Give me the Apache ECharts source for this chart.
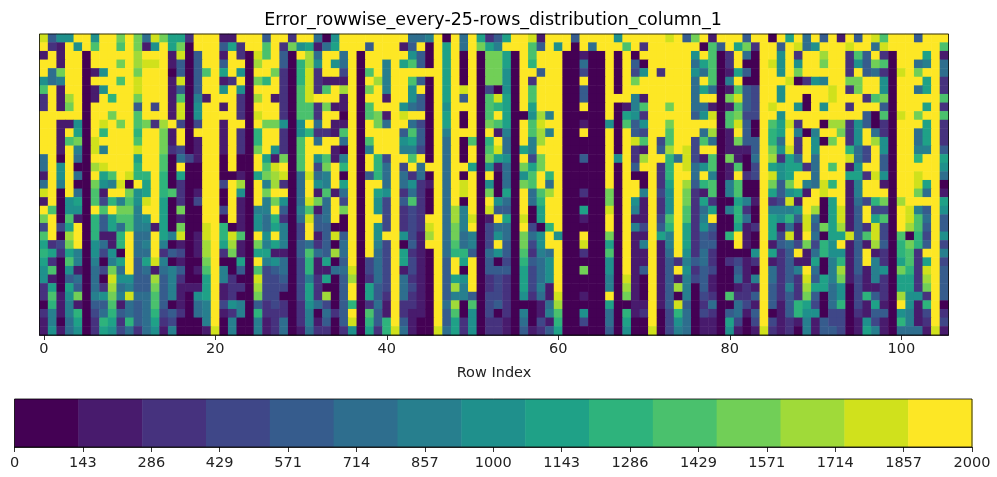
<!DOCTYPE html>
<html><head><meta charset="utf-8">
<style>html,body{margin:0;padding:0;background:#fff}#c{width:997px;height:477px}</style>
<script src="https://cdn.jsdelivr.net/npm/echarts@6/dist/echarts.min.js"></script>
</head><body><div id="c"></div>
<script>
// Colour level per cell (base-15 digit, 0..e), rows top to bottom, split in four column blocks.
const colsA = ["d477ee7eebeb5db882eee11eee4","e21e7eaeeaeb17e8b0eee482eea","1e1ee0eeeeeceee1d04ee1e20da","ee1ee0eeebecdde1404ee4ee0ce","e5bee017eeebeee0404ae8e70ee","756ee0eeeaedeee1d04ee12e0b9","ae1ee017eeedeee1404ee7e70ee","2e1ce01e9eebeee1a061eee20ce","2e1be0eeeee4e3e1d07ee1e20ee","eeeee0eebeeaeee1d07eeee20de","ee1170edebeab2ce303ee1ee0eb","ee1e80e9eee9eeb1e0eee1e209e","ee1ab0deeeeaeeb1e01ee1e209e","ee1e60d6eeedeeb2301ee1e20be","5e0e50eeeee8eea0531ee0e00e8","5e7e00cdeee9eea0e00ee0e00ea","1e7e50e8aed99e90800ee00108b","5e6e00b76d0e8e90200ee3ec0e6","de0e50a1eeb78e9a201ee0e70eb","1e0780a396a7de80203ee0e10e6","ea0770eaebb6ee80b00ee3e1066","be0a10948aa67e80100ee0e1075","3e38e09485a66180b00de901075","ae0ce09119e55e86d01de9da0e7","823be07519e56e60101ce8c10b6","9828607370e55e24301ce2b1088","820a606068e48d60100be0080e6","7a071053b5e45156401ae6040a3","71045050d7744c462008e6200d3","28084052c5644b461118e1220c3","2a17b067b6d55a461078e1200b3","09161044a1545a401056e376042","26169035945459342056e126092","16058029829458230006e060061","17157028735257160001d060061"];
const colsB = ["ee2ee507eeeeeeee556e0e5e824","e2b78158eee4eee14e0e8e5eb86","e40ec5ee5e0eeeee740e8e0e0bb","e409c7e75e0ee6e8a40e8e0e0bb","b209d2ee3e0ae6eeeeee8e0e0bb","e209d2111e0ec6eea40e8e0e0bb","e20ad2aece0be6ee7e0e8ede030","120adeee1e0ee1ee740e8e4e0ad","e20aa2b11e0aeee7540e7eee0a9","e20aa2ee0e0ab1edee0e8e0e0ae","b707e5e11e0eb5ee530e8e0e0ba","e2079221ae0eeee4a40e6eee0e1","e20ae5ee5e0aeee7840e5e0a09e","720aeee10e06eee6630e5e0e0ad","1b0ae7a16e0e93eeae0e5e0e0b8","de0ae3be9e0e95e3e5ee5ee8071","cd05d56e0e0495e5250e5e0e0e0","c205e76e8e0ee5e5721e5ede070","ee05e1a15e0e87e2520e5ede0b0","b705db5e3e0e73e4a20e5e0e0e7","e406a15ebe0e73e2320e5c6e0d4","9205d45e0e0ee3e232ee5c6d01e","8603e4400e0e73e232de5b6e035","e603e14d4e0e7ee731ce5b56037","860452405e0e63e041ee5a5603e","1104a54c5e0e53e8210e5994057","750391804e0353e8310e4e8e040","450391155d0353e1310e4e0e044","340362804c0253e5210e487e023","330382004e0843e5310e4c6e023","300382c04e0842e5210e4664033","32027530490251e2210e5c0a034","220260524e0a41e2110e4a07030","250261404d0949e4100e4827022","25015220270829d5100d5827022"];
const colsC = ["8eed1eee4eeee7eeeeede4be1ee","eeea4e7e0e5eeeae2eeeeee0a4e","80eaeee00100e0e0eeeeee7ea02","80e9eee00500e0e40eeeee58a02","70ee4ee00300e0e37e2eee75a01","70e2eee00e00e0ebeeeeee5ea06","70eaeee00400e0eeeeeeee58501","80eaeee00400eee61eeeee5ee0b","80e8eee00e00e016aeebee55101","8007c6e00000e0872eeeee47d0a","80eadee0010070a47eebeeeee0a","60eac6e00e00e0e43eeaeee5c01","50e6cee00000e0edae3aee3a501","5086eee00000e0e21e4ced3ee01","70e3bee00400e7e2cee95d31a0b","50b8bee00000e0e4ee29ed57a01","507ae9e00000e0e00e29ee5e601","50bae5e00000e0ee0e28ec49a06","80e5ace00200b0ee6e37eb21a06","50e59ee00000b0e71e27eb28200","40e08ee00800d0e61e27ea25806","80d08ee00100e0e11e3aea26e00","50e309e00000e0e63e49e827400","50b57e700e00b0e11e86e824309","40b37ee00d0080e16e16e824400","40a265e00200a0e11e15e725200","309457e0000070e11e142645202","408357e00b0070e14e14e724300","208357e0000060d10e141634100","208361e0000060c10e14c604100","207251d00100e0b10e14060320a","200015c0000080011e14d402500","206016a0070050912e039503204","10503190030050800e037501108","10412480000040700d036501107"];
const colsD = ["e4ee0e8e5e4e1e4edaeee4eee","8b2ee4ed57eeedee5deeeeeea","e50ee7e2eecee2a4e20eee8e1","e00ed7e7eebee274ba0ee56e5","840ee7ebeeeee2e4520debee5","e00eeed0276eebbee70eee8e2","a43ee7eeeeede2bee70ee58e2","d43ee7ee0eedeee2ab0eeeeea","a43edee70e7ee2eee40eee8e2","b33ee7eeeeeeeee40a0debeea","d40ea8d2ee0cc274020eee8e2","e40e98e606eeb27e520ee58e2","b44e95e2e70be27ec70ee58e2","114eb7d2e7eee953e70ee66e4","105ec285e5eeed53e40ee9ee8","a03e878825eae17ee40eeeee7","e23ed78ee5eee882d70eedee5","a00eb4be65d9e16ee10eed8e0","a00e84781edee16eee0eeb5e1","861e23d1ee08e1539b0ceeee8","920e6667ec08d14e330ed64e7","950e8794d508d14e8a0eda5e4","812e8151d4b8c142d30eca4e4","e10e83d1e5088d4ad30a093e7","e10e1453b397e141c409b94e3","007e824e1597714e1209a2ee6","312e12411806914e6208a28e3","410e5246e506c141670b92de4","516e5242d486b131620882ce4","121e4262c8857031120882be4","224e4242b4057039420c772e4","531e414983059031810e719e0","514e0149770330214407613e2","303e3121614330173109612e3","101d2120614430186105551d1"];
const palette = ["#440154","#481b6d","#46327e","#3f4788","#365c8d","#2e6e8e","#277f8e","#1f908c","#1fa187","#2eb37c","#4ac16d","#71cf57","#a0da39","#d0e11c","#fde725"];
const colorbarTicks = [0,143,286,429,571,714,857,1000,1143,1286,1429,1571,1714,1857,2000];
const vmax = 2000;
const titleText = "Error_rowwise_every-25-rows_distribution_column_1";

const nCols = 106, nRows = 35, bin = vmax / palette.length;
const xCats = Array.from({length:nCols},(_,i)=>String(i));
const yCats = Array.from({length:nRows},(_,i)=>String(i));
const cells = [];
for (let r=0;r<nRows;r++){
  const row = colsA[r]+colsB[r]+colsC[r]+colsD[r];
  for (let c=0;c<nCols;c++){
    const level = parseInt(row[c],15);
    cells.push([c,r,(level+0.5)*bin]);
  }
}
const barBins = palette.map((col,i)=>[i*bin,(i+1)*bin,i]);
const tickExact = colorbarTicks.map((_,i)=>i*vmax/14);
const font = '"DejaVu Sans"';
const G = {l:39.5,t:34,w:909,h:301};
const B = {l:14.5,t:399,w:957.5,h:48};
const chart = echarts.init(document.getElementById('c'),null,{renderer:'canvas'});
chart.setOption({
  animation:false,
  backgroundColor:'#fff',
  title:{text:titleText,top:11,textStyle:{fontFamily:font,fontSize:17.5,fontWeight:'normal',color:'#000'},padding:0,itemGap:0,
    textAlign:'center',left:493},
  grid:[{left:G.l,top:G.t,width:G.w,height:G.h,show:false},{left:B.l,top:B.t,width:B.w,height:B.h,show:false}],
  xAxis:[
    {type:'category',gridIndex:0,data:xCats,boundaryGap:true,
     axisLine:{show:true,lineStyle:{color:'#000',width:0.8}},
     axisTick:{show:true,alignWithLabel:true,interval:19,length:5,lineStyle:{color:'#000',width:0.8}},
     axisLabel:{interval:19,fontFamily:font,fontSize:14.5,color:'#222',margin:7},
     name:'Row Index',nameLocation:'middle',nameGap:31,nameTextStyle:{fontFamily:font,fontSize:14.5,color:'#222'},splitLine:{show:false}},
    {type:'value',gridIndex:1,min:0,max:vmax,
     axisLine:{show:true,onZero:false,lineStyle:{color:'#000',width:0.8}},
     axisTick:{show:true,customValues:tickExact,length:5,lineStyle:{color:'#000',width:0.8}},
     axisLabel:{customValues:tickExact,hideOverlap:false,showMinLabel:true,showMaxLabel:true,formatter:v=>String(Math.round(v)),fontFamily:font,fontSize:14.5,color:'#222',margin:9},
     splitLine:{show:false}}
  ],
  yAxis:[
    {type:'category',gridIndex:0,data:yCats,inverse:true,show:false},
    {type:'value',gridIndex:1,min:0,max:1,show:false}
  ],
  visualMap:{show:false,type:'piecewise',seriesIndex:0,dimension:2,
    pieces:palette.map((color,i)=>({gte:i*bin,lt:(i+1)*bin,color}))},
  series:[
    {type:'heatmap',xAxisIndex:0,yAxisIndex:0,data:cells,progressive:0,silent:true,itemStyle:{borderWidth:0},emphasis:{disabled:true}},
    {type:'custom',xAxisIndex:1,yAxisIndex:1,data:barBins,silent:true,clip:false,encode:{x:[0,1]},
     renderItem:(p,api)=>{
       const a=api.coord([api.value(0),1]),b=api.coord([api.value(1),0]);
       return {type:'rect',shape:{x:a[0],y:a[1],width:b[0]-a[0]+0.5,height:b[1]-a[1]},style:{fill:palette[api.value(2)]}};
     }}
  ],
  graphic:[
    {type:'rect',silent:true,z:100,shape:{x:G.l,y:G.t,width:G.w,height:G.h},style:{fill:'none',stroke:'#000',lineWidth:0.8}},
    {type:'rect',silent:true,z:100,shape:{x:B.l,y:B.t,width:B.w,height:B.h},style:{fill:'none',stroke:'#000',lineWidth:0.8}}
  ]
});
</script></body></html>
